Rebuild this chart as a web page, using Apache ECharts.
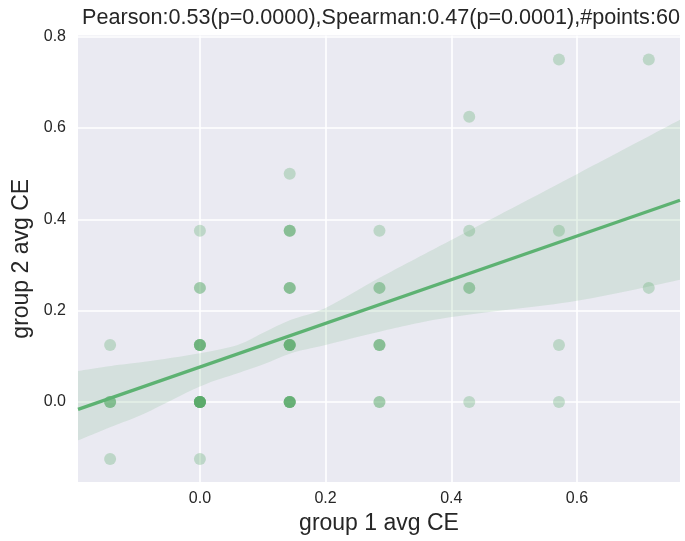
<!DOCTYPE html>
<html>
<head>
<meta charset="utf-8">
<script src="https://cdn.jsdelivr.net/npm/echarts@6/dist/echarts.min.js"></script>
<style>
  html, body { margin: 0; padding: 0; background: #ffffff; }
  #chart { width: 685px; height: 541px; }
</style>
</head>
<body>
<div id="chart"></div>
<script>
// Per-sample averages: group 1 (x) against group 2 (y), 60 samples
const group1 = [
  -0.1429, -0.1429, -0.1429, -0.1429, -0.1429,
  0, 0, 0, 0, 0, 0, 0, 0, 0, 0, 0, 0, 0, 0, 0, 0, 0, 0,
  0.1429, 0.1429, 0.1429, 0.1429, 0.1429, 0.1429, 0.1429, 0.1429, 0.1429,
  0.1429, 0.1429, 0.1429, 0.1429, 0.1429, 0.1429, 0.1429, 0.1429, 0.1429,
  0.2857, 0.2857, 0.2857, 0.2857, 0.2857, 0.2857, 0.2857, 0.2857,
  0.4286, 0.4286, 0.4286, 0.4286, 0.4286,
  0.5714, 0.5714, 0.5714, 0.5714,
  0.7143, 0.7143
];
const group2 = [
  0.125, 0, 0, 0, -0.125,
  0.375, 0.25, 0.25, 0.125, 0.125, 0.125, 0.125, 0.125, 0, 0, 0, 0, 0, 0, 0, 0, 0, -0.125,
  0.5, 0.375, 0.375, 0.375, 0.25, 0.25, 0.25, 0.125, 0.125,
  0.125, 0.125, 0.125, 0, 0, 0, 0, 0, 0,
  0.375, 0.25, 0.25, 0.125, 0.125, 0.125, 0, 0,
  0.625, 0.375, 0.25, 0.25, 0,
  0.75, 0.375, 0.125, 0,
  0.75, 0.25
];

// Fitted regression line, end to end across the x range
const fitX = [-0.194, 0.764];
const fitY = [-0.016, 0.442];

// 95% confidence band around the fit
const ciX    = [-0.194, -0.141, -0.088, 0.0, 0.06, 0.1, 0.145, 0.2, 0.286, 0.4, 0.6, 0.764];
const ciLow  = [-0.084, -0.054, -0.025, 0.034, 0.063, 0.082, 0.107, 0.125, 0.154, 0.186, 0.222, 0.268];
const ciHigh = [0.068, 0.079, 0.088, 0.107, 0.125, 0.151, 0.18, 0.206, 0.272, 0.355, 0.499, 0.618];

const titleText = 'Pearson:0.53(p=0.0000),Spearman:0.47(p=0.0001),#points:60';
const xLabel = 'group 1 avg CE';
const yLabel = 'group 2 avg CE';

const GREEN = '#55a868';
const LINE_GREEN = '#5db272';
const TEXT = '#262626';
const FONT = 'Liberation Sans, Arial, sans-serif';

const points = group1.map((x, i) => [x, group2[i]]);
const fitLine = fitX.map((x, i) => [x, fitY[i]]);

// Smooth path through pixel points (Catmull-Rom segments as cubic Beziers)
function smoothSegments(pts) {
  let d = '';
  for (let i = 0; i < pts.length - 1; i++) {
    const p0 = pts[Math.max(i - 1, 0)];
    const p1 = pts[i];
    const p2 = pts[i + 1];
    const p3 = pts[Math.min(i + 2, pts.length - 1)];
    const c1 = [p1[0] + (p2[0] - p0[0]) / 6, p1[1] + (p2[1] - p0[1]) / 6];
    const c2 = [p2[0] - (p3[0] - p1[0]) / 6, p2[1] - (p3[1] - p1[1]) / 6];
    d += ' C' + c1[0] + ' ' + c1[1] + ' ' + c2[0] + ' ' + c2[1] + ' ' + p2[0] + ' ' + p2[1];
  }
  return d;
}

const chart = echarts.init(document.getElementById('chart'), null, { renderer: 'canvas' });

function labelStyle(margin) {
  return {
    showMinLabel: false, showMaxLabel: false,
    color: TEXT, fontSize: 16, fontFamily: FONT, margin: margin,
    formatter: (v) => v.toFixed(1)
  };
}

function valueAxis(extra) {
  return Object.assign({
    type: 'value',
    splitNumber: 5,
    axisLine: { show: false },
    axisTick: { show: false },
    splitLine: { show: true, showMinLine: false, showMaxLine: false,
                 lineStyle: { color: '#ffffff', width: 1.6 } },
    nameLocation: 'middle',
    nameTextStyle: { color: TEXT, fontSize: 23, fontFamily: FONT }
  }, extra);
}

chart.setOption({
  animation: false,
  backgroundColor: '#ffffff',
  title: {
    text: titleText,
    left: 376,
    top: 2,
    textAlign: 'center',
    textStyle: { color: TEXT, fontSize: 21.6, fontWeight: 'normal', fontFamily: FONT }
  },
  grid: {
    left: 78, right: 5, top: 35.5, bottom: 59,
    show: true, backgroundColor: '#EAEAF2', borderWidth: 0
  },
  xAxis: valueAxis({
    min: -0.194, max: 0.764,
    name: xLabel, nameGap: 28,
    axisLabel: labelStyle(9)
  }),
  yAxis: valueAxis({
    min: -0.1752, max: 0.8028,
    name: yLabel, nameGap: 45,
    axisLabel: labelStyle(12)
  }),
  series: [
    {
      type: 'scatter',
      data: points,
      symbol: 'circle',
      symbolSize: 12,
      itemStyle: { color: GREEN, opacity: 0.3 },
      emphasis: { disabled: true }
    },
    {
      type: 'custom',
      data: [[ciX[0], ciLow[0]]],
      renderItem: function (params, api) {
        const upper = ciX.map((x, i) => api.coord([x, ciHigh[i]]));
        const lower = ciX.map((x, i) => api.coord([x, ciLow[i]])).reverse();
        const d = 'M' + upper[0][0] + ' ' + upper[0][1] + smoothSegments(upper) +
                  ' L' + lower[0][0] + ' ' + lower[0][1] + smoothSegments(lower) + ' Z';
        return {
          type: 'path',
          shape: { pathData: d },
          style: { fill: 'rgba(85,168,104,0.15)', stroke: null }
        };
      },
      silent: true
    },
    {
      type: 'line',
      data: fitLine,
      showSymbol: false,
      lineStyle: { color: LINE_GREEN, width: 3.3 },
      silent: true
    }
  ]
});
</script>
</body>
</html>
